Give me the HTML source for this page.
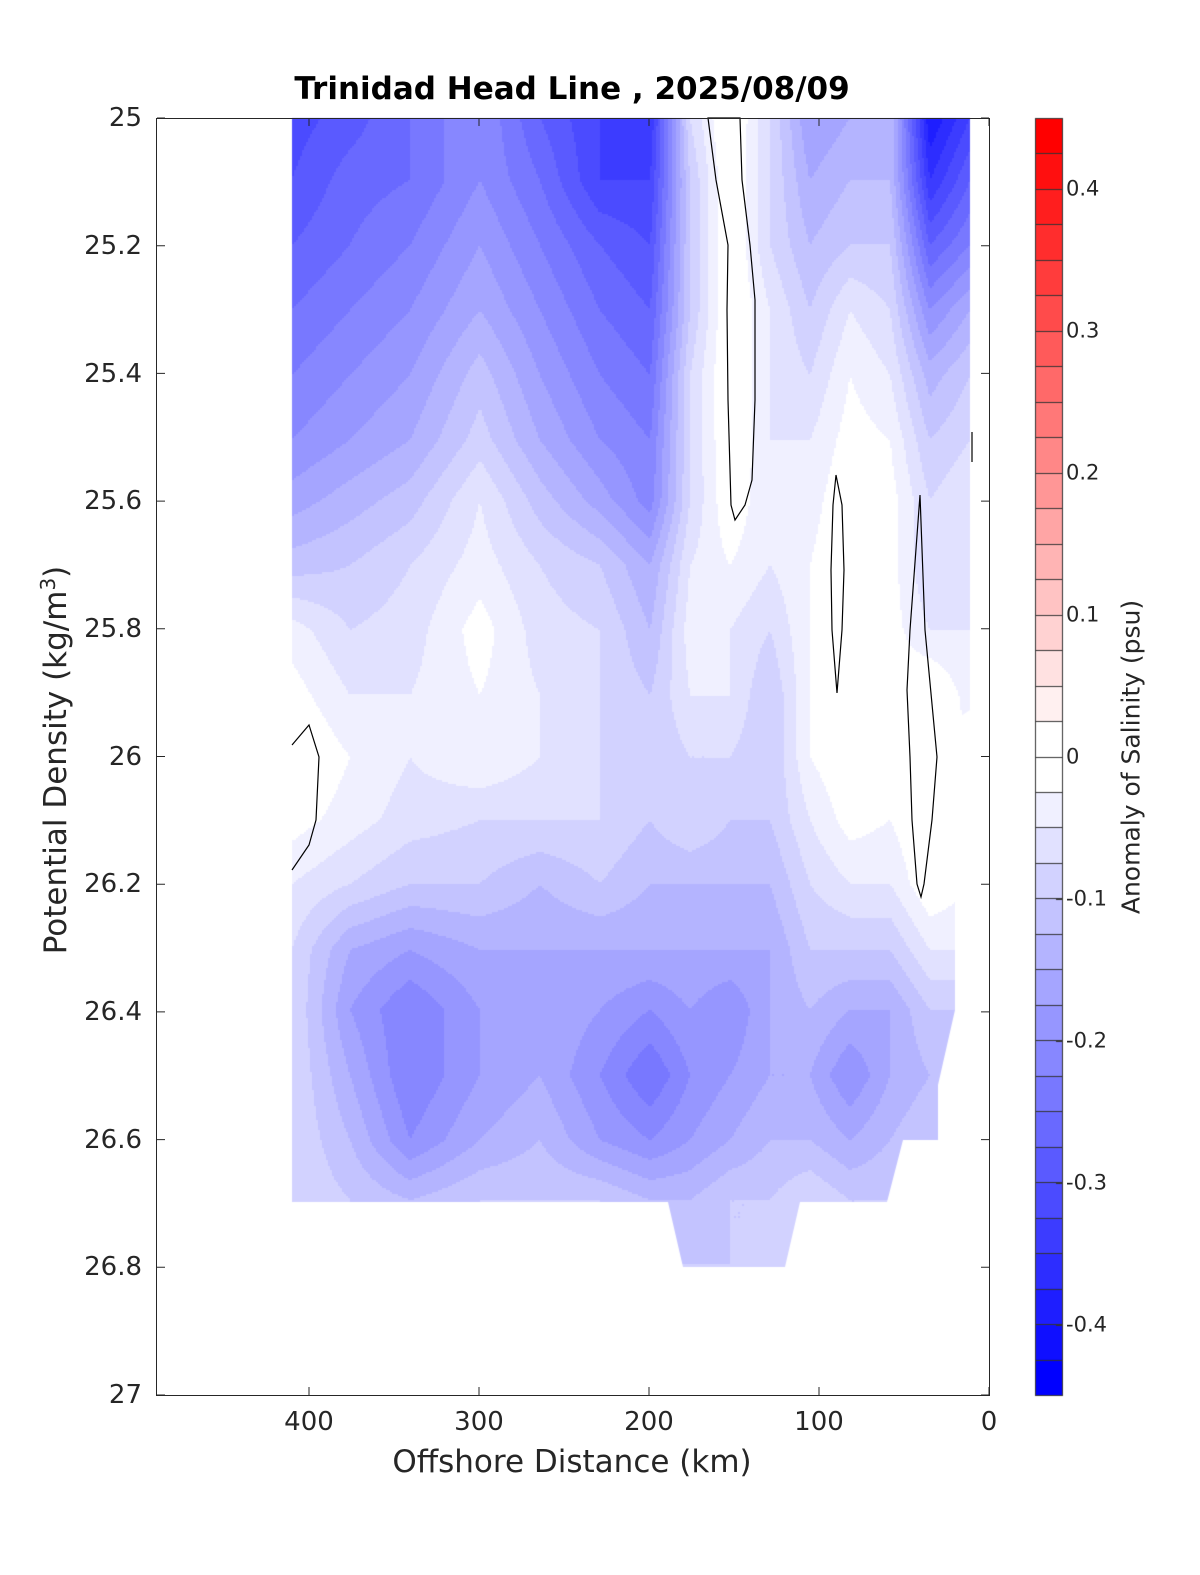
<!DOCTYPE html>
<html><head><meta charset="utf-8"><style>
html,body{margin:0;padding:0;background:#fff;overflow:hidden;width:1200px;height:1575px;}
#w{position:relative;width:1200px;height:1575px;overflow:hidden;font-family:"DejaVu Sans","Liberation Sans",sans-serif;color:#262626;}
canvas{position:absolute;left:0;top:0;}
.t{position:absolute;font-size:26px;white-space:nowrap;line-height:1;}
.yl{right:1058px;text-align:right;transform:translateY(-50%);}
.xl{top:1409px;transform:translateX(-50%);}
.cl{left:1066px;font-size:21px;transform:translateY(-50%);}
</style></head><body><div id="w">
<canvas id="c" width="1200" height="1575"></canvas>
<svg width="1200" height="1575" style="position:absolute;left:0;top:0">
<g fill="none" stroke="#000" stroke-width="1.2">
<polyline points="292,745 309,725 319,757 316,820 309,845 292,870"/>
<polygon points="708,118 716,180 728,245 727,310 728,400 731,505 735,520 745,505 752,480 755,400 755,300 750,245 742,180 740,118"/>
<polygon points="836,475 842,505 844,570 842,630 837,693 832,630 831,570 833,505"/>
<polygon points="920,495 925,630 937,757 932,820 924,884 921,897 917,884 912,820 910,757 907,690 910,630"/>
<line x1="972" y1="432" x2="972" y2="462"/>
</g>
<g stroke="#262626" stroke-width="1" fill="none">
<rect x="156.5" y="118.5" width="833" height="1277"/>
<path id="tk" d=""/>
</g>
</svg>
<div class="t" style="left:572px;top:74px;transform:translateX(-50%);font-weight:bold;font-size:31px;color:#000">Trinidad Head Line , 2025/08/09</div>
<div class="t yl" style="top:118px">25</div>
<div class="t yl" style="top:246px">25.2</div>
<div class="t yl" style="top:374px">25.4</div>
<div class="t yl" style="top:501px">25.6</div>
<div class="t yl" style="top:629px">25.8</div>
<div class="t yl" style="top:757px">26</div>
<div class="t yl" style="top:884px">26.2</div>
<div class="t yl" style="top:1012px">26.4</div>
<div class="t yl" style="top:1140px">26.6</div>
<div class="t yl" style="top:1267px">26.8</div>
<div class="t yl" style="top:1395px">27</div>
<div class="t xl" style="left:309px">400</div>
<div class="t xl" style="left:479px">300</div>
<div class="t xl" style="left:649px">200</div>
<div class="t xl" style="left:819px">100</div>
<div class="t xl" style="left:989px">0</div>
<div class="t" style="left:572px;top:1447px;transform:translateX(-50%);font-size:31px">Offshore Distance (km)</div>
<div class="t" style="left:55px;top:760px;transform:translate(-50%,-50%) rotate(-90deg);font-size:31px">Potential Density (kg/m<sup style="font-size:20px">3</sup>)</div>
<div class="t" style="left:1131px;top:757px;transform:translate(-50%,-50%) rotate(-90deg);font-size:25px">Anomaly of Salinity (psu)</div>
<div class="t cl" style="top:189px">0.4</div>
<div class="t cl" style="top:331px">0.3</div>
<div class="t cl" style="top:473px">0.2</div>
<div class="t cl" style="top:615px">0.1</div>
<div class="t cl" style="top:757px">0</div>
<div class="t cl" style="top:899px">-0.1</div>
<div class="t cl" style="top:1041px">-0.2</div>
<div class="t cl" style="top:1183px">-0.3</div>
<div class="t cl" style="top:1325px">-0.4</div>
</div>
<script>
var X=[292,350,410,480,540,600,650,690,730,770,810,850,890,930,970];
var Y=[118,180,245,310,375,440,500,565,630,695,757,820,884,950,1010,1075,1140,1200,1265];
var G=[
[-12.5,-11.5,-10,-8,-11,-13,-14,-3,0.5,-3,-7,-6,-5,-16,-13],
[-12,-10.5,-10,-8,-10,-13,-13,-4,0.3,-3,-6,-5,-5,-14,-11],
[-11,-10,-9,-7,-9,-11,-12,-4,0.3,-3,-5,-4,-4,-11,-9],
[-10,-9,-8,-6,-8,-10,-11,-4,0.3,-2,-4,-2,-3,-8,-6],
[-9,-8,-7,-4.5,-7,-9,-10,-3,0.3,-2,-3,-1,-2,-5.5,-4],
[-8,-7,-6,-3.5,-6,-8,-9,-3,0.2,-2,-2,-0.5,-1,-4,-3],
[-6.5,-5.5,-4.5,-2,-4.5,-6.5,-8.5,-3,0,-2,-1.5,0,-0.5,-3,-2],
[-4.5,-4,-3,-1.5,-3,-4,-6,-2,-1,-2,-1,0.2,-0.5,-3,-2],
[-1.5,-3,-2.5,-0.5,-2.5,-3,-5,-1.5,-2,-3,-1,0.3,-0.5,-2,-2],
[-0.5,-2,-2,-1,-2,-3,-4,-2,-2,-4,-1,0.2,-0.5,0.3,-1.5],
[0.3,-1,-2,-1,-2,-3,-4,-3,-3,-4,-1,0,-1,0.4,-1],
[-0.5,-1.5,-2.5,-3,-3,-3,-4,-3,-4,-4,-2,-0.5,-1,0.3,-1],
[-2,-3,-4,-4,-5,-4,-5,-5,-5,-5,-3,-2,-2,0,-1],
[-3,-6,-7,-6,-6,-6,-6,-6,-6,-6,-4,-4,-4,-2,-2],
[-3,-7,-9,-7,-6,-7,-8,-7,-8,-6,-5,-6,-6,-4,-4],
[-3,-6,-9,-7,-6,-8,-10,-8,-7,-6,-6,-8,-6,-5,-5],
[-3,-5,-8,-6,-5,-7,-8,-7,-6,-5,-5,-6,-5,-4,-4],
[-3,-4,-5,-4,-4,-4,-5,-5,-4,-4,-3,-4,-4,-3,-3],
[-3,-4,-5,-4,-4,-4,-4,-4,-4,-4,-3,-4,-4,-3,-3]];
function idx(a,v){for(var i=0;i<a.length-2;i++)if(v<a[i+1])return i;return a.length-2;}
function val(x,y){var i=idx(X,x),j=idx(Y,y);var tx=(x-X[i])/(X[i+1]-X[i]),ty=(y-Y[j])/(Y[j+1]-Y[j]);
tx=Math.max(0,Math.min(1,tx));ty=Math.max(0,Math.min(1,ty));
return G[j][i]*(1-tx)*(1-ty)+G[j][i+1]*tx*(1-ty)+G[j+1][i]*(1-tx)*ty+G[j+1][i+1]*tx*ty;}
function col(v){if(v>=-1)return "#fff";var n=Math.ceil(-v);var f=Math.min(1,(n-1)/17);var c=Math.round(255*(1-f));return "rgb("+c+","+c+",255)";}
var cv=document.getElementById("c"),ctx=cv.getContext("2d");
ctx.save();ctx.beginPath();
var P=[[292,118],[970,118],[970,710],[955,720],[955,1010],[938,1085],[938,1140],[903,1140],[887,1202],[800,1202],[785,1267],[683,1267],[668,1202],[292,1202]];
ctx.moveTo(P[0][0],P[0][1]);for(var k=1;k<P.length;k++)ctx.lineTo(P[k][0],P[k][1]);ctx.closePath();ctx.clip();
var s=2;for(var x=292;x<972;x+=s)for(var y=118;y<1268;y+=s){ctx.fillStyle=col(val(x+1,y+1));ctx.fillRect(x,y,s,s);}
ctx.restore();
var h=1277/36;
for(var i=0;i<36;i++){var c=0.45-0.025*(i+0.5);var f;
 if(Math.abs(c)<0.025)f=0;else f=(Math.round(Math.abs(c)/0.025+0.5)-1)/17;
 var g=Math.round(255*(1-Math.min(1,f)));
 ctx.fillStyle=c>0?"rgb(255,"+g+","+g+")":"rgb("+g+","+g+",255)";
 ctx.fillRect(1035,118+i*h,27,h+1);}
ctx.strokeStyle="#333";ctx.lineWidth=1;
for(var i=1;i<36;i++){var yy=Math.round(118+i*h)+0.5;ctx.beginPath();ctx.moveTo(1035,yy);ctx.lineTo(1062,yy);ctx.stroke();}
ctx.strokeRect(1035.5,118.5,27,1277);
for(var i=0;i<9;i++){var yy=Math.round(189+i*142)+0.5;ctx.beginPath();ctx.moveTo(1056,yy);ctx.lineTo(1062,yy);ctx.stroke();}
var d="";
for(var i=0;i<11;i++){var yy=118+i*127.7;d+="M157 "+yy+"h8M989 "+yy+"h-8";}
for(var i=0;i<5;i++){var xx=309+i*170;d+="M"+xx+" 1395v-8M"+xx+" 118v8";}
document.getElementById("tk").setAttribute("d",d);
</script>
</body></html>
